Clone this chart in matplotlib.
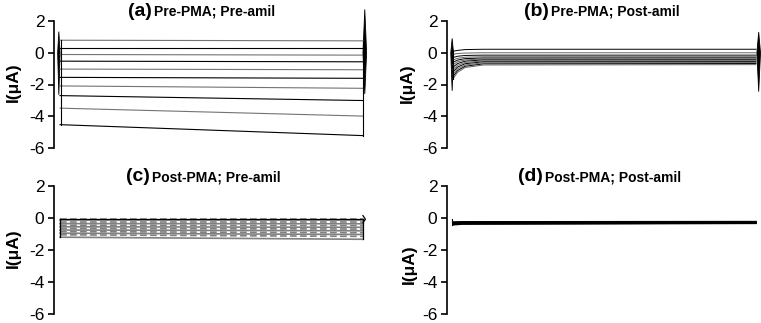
import numpy as np
import matplotlib
matplotlib.use("Agg")
import matplotlib.pyplot as plt

plt.rcParams['font.family'] = ['Liberation Sans', 'DejaVu Sans']

# --- data (current in uA, time in % of pulse) ---
# (a) Pre-PMA; Pre-amil : each sweep is nearly linear, start -> end
a_start = [0.79, 0.27, -0.11, -0.53, -1.03, -1.55, -2.09, -2.70, -3.49, -4.53]
a_end = [0.75, 0.27, -0.15, -0.57, -1.07, -1.61, -2.24, -3.01, -3.99, -5.22]
a_gray = [1, 0, 1, 0, 1, 0, 1, 0, 1, 0]

# (b) Pre-PMA; Post-amil : fast relaxation at pulse onset
b_times = [0, 1.5, 4, 10, 100]
b_sweeps = [
    [0.10, 0.15, 0.20, 0.22, 0.22],
    [-0.10, -0.05, -0.02, 0.00, 0.00],
    [-0.30, -0.22, -0.17, -0.15, -0.15],
    [-0.45, -0.35, -0.28, -0.25, -0.25],
    [-0.60, -0.46, -0.37, -0.33, -0.32],
    [-0.75, -0.57, -0.45, -0.39, -0.38],
    [-0.90, -0.68, -0.53, -0.45, -0.44],
    [-1.05, -0.79, -0.61, -0.51, -0.50],
    [-1.20, -0.90, -0.69, -0.57, -0.56],
    [-1.35, -1.01, -0.77, -0.63, -0.62],
    [-1.50, -1.12, -0.85, -0.70, -0.68],
    [-1.65, -1.23, -0.93, -0.77, -0.75],
]

# (c) Post-PMA; Pre-amil
c_start = [-0.05, -0.15, -0.25, -0.35, -0.45, -0.55, -0.65, -0.75, -0.85, -0.95, -1.05, -1.20]
c_end = [-0.05, -0.15, -0.25, -0.36, -0.47, -0.58, -0.69, -0.80, -0.92, -1.03, -1.15, -1.33]

# (d) Post-PMA; Post-amil
d_start = [-0.25, -0.28, -0.31, -0.34, -0.37, -0.40, -0.43]
d_end = [-0.22, -0.24, -0.26, -0.28, -0.30, -0.32, -0.34]

# capacitive spikes: (top, bottom, half width) at pulse on / off
a_on_spike = (1.33, -2.65, 0.4)
a_off_spike = (2.73, -2.6, 0.6)
b_on_spike = (0.9, -2.4, 0.45)
b_off_spike = (1.3, -2.45, 0.6)

titles = ["(a)", "(b)", "(c)", "(d)"]
subtitles = ["Pre-PMA; Pre-amil", "Pre-PMA; Post-amil",
             "Post-PMA; Pre-amil", "Post-PMA; Post-amil"]
yticks = [2, 0, -2, -4, -6]

W, H = 761, 323
fig = plt.figure(figsize=(W / 100, H / 100), dpi=100)


def px_axes(left, top, width, height):
    return fig.add_axes([left / W, 1 - (top + height) / H, width / W, height / H])


axa = px_axes(54, 21, 312, 127)
axb = px_axes(447, 21, 312, 127)
axc = px_axes(54, 186, 312, 128)
axd = px_axes(447, 186, 312, 128)

for ax in (axa, axb, axc, axd):
    ax.set_xlim(-2, 101)
    ax.set_ylim(-6, 2)
    ax.set_yticks(yticks)
    ax.set_yticklabels([str(v) for v in yticks])
    ax.set_xticks([])
    for s in ("top", "right", "bottom"):
        ax.spines[s].set_visible(False)
    ax.spines["left"].set_linewidth(1.2)
    ax.tick_params(axis="y", direction="out", length=4, width=1.2, labelsize=12.5, pad=3)
    ax.patch.set_alpha(0)


def spike(ax, x0, sp):
    top, bot, w = sp
    ax.fill([x0, x0 + w, x0, x0 - w], [top, 0.0, bot, 0.0],
            facecolor="black", edgecolor="black", lw=0.6, clip_on=False)


# (a)
for s, e, g in zip(a_start, a_end, a_gray):
    axa.plot([0, 100], [s, e], color="0.45" if g else "black", lw=0.8)
axa.plot([0.3, 0.3], [a_start[0], a_start[-1]], color="black", lw=0.8)
axa.plot([100, 100], [a_end[0], a_end[-1]], color="black", lw=0.8)
spike(axa, -0.4, a_on_spike)
spike(axa, 100.6, a_off_spike)

# (b)
for i, sw in enumerate(b_sweeps):
    axb.plot(b_times, sw, color="0.4" if i % 2 else "black", lw=0.7)
axb.plot([0, 0], [b_sweeps[0][0], b_sweeps[-1][0]], color="black", lw=0.8)
spike(axb, -0.3, b_on_spike)
spike(axb, 100.9, b_off_spike)

# (c)
for i, (s, e) in enumerate(zip(c_start, c_end)):
    axc.plot([0, 100], [s, e], color="0.5", lw=1.2,
             ls="-" if i % 2 else (0, (4, 2)))
axc.plot([0, 100], [c_start[0], c_end[0]], color="black", lw=0.9)
axc.plot([0, 0], [c_start[0], c_start[-1]], color="black", lw=0.9)
axc.plot([100, 100], [c_end[0], c_end[-1]], color="black", lw=0.9)
axc.plot([100, 100.8, 100], [0.15, -0.08, -0.3], color="black", lw=0.9)

# (d)
for s, e in zip(d_start, d_end):
    axd.plot([0, 3, 100], [s, (s + e) / 2, e], color="black", lw=1.0)
axd.plot([-0.3, -0.3], [d_start[0] + 0.2, d_start[-1]], color="black", lw=0.8)

# titles and axis labels, placed in pixels
title_pos = [(152, 16), (549, 16), (150, 181), (543, 181)]
for (x, y), t, st in zip(title_pos, titles, subtitles):
    fig.text(x / W, 1 - y / H, t, ha="right", va="baseline",
             fontsize=14, fontweight="bold")
    fig.text((x + 2) / W, 1 - y / H, st, ha="left", va="baseline",
             fontsize=10, fontweight="bold")

ylab_pos = [(13, 82), (407, 83), (13, 248), (409, 264)]
for x, y in ylab_pos:
    fig.text(x / W, 1 - y / H, "I(μA)", rotation=90, ha="center", va="center",
             fontsize=12.5, fontweight="bold")

fig.savefig("out.png", dpi=100)
